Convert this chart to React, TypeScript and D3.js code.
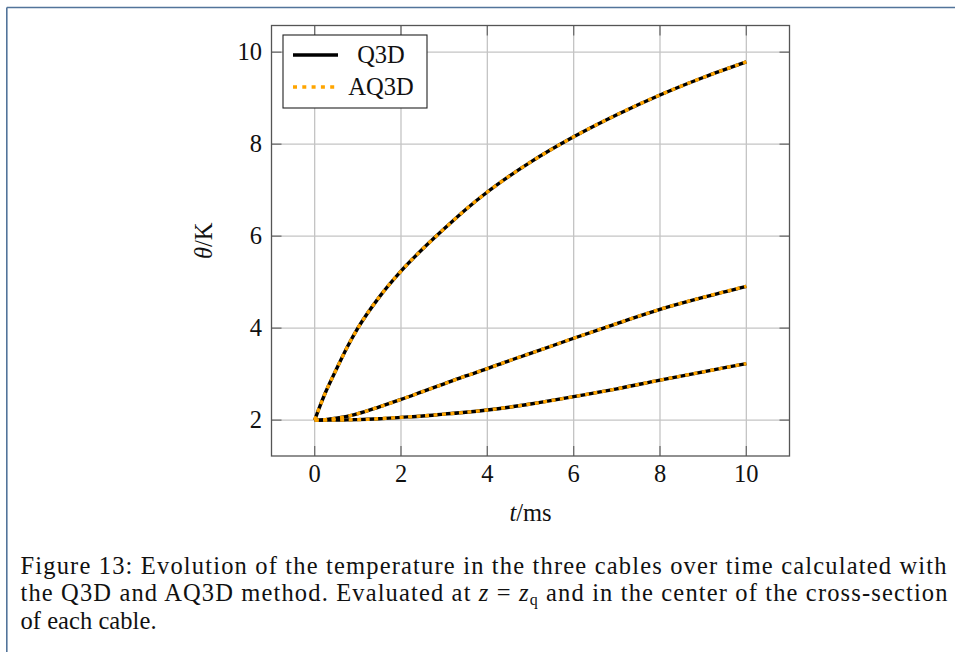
import React from "react";
import * as d3 from "d3";

// ---- data ----
const times = [0, 0.1, 0.25, 0.5, 0.75, 1, 1.5, 2, 2.5, 3, 3.5, 4, 4.5, 5, 6, 7, 8, 9, 10];
const cableA = [2, 2.25, 2.6, 3.1, 3.58, 4.0, 4.68, 5.24, 5.72, 6.16, 6.58, 6.96, 7.3, 7.61, 8.16, 8.64, 9.07, 9.45, 9.79];
const cableB = [2, 2.0, 2.01, 2.04, 2.08, 2.14, 2.29, 2.45, 2.62, 2.79, 2.96, 3.12, 3.29, 3.45, 3.78, 4.1, 4.41, 4.67, 4.91];
const cableC = [2, 2.0, 2.0, 2.0, 2.005, 2.01, 2.03, 2.06, 2.09, 2.13, 2.17, 2.22, 2.28, 2.35, 2.51, 2.68, 2.87, 3.05, 3.23];
const xTicks = [0, 2, 4, 6, 8, 10];
const yTicks = [2, 4, 6, 8, 10];
const legendLabels = ["Q3D", "AQ3D"];
const captionLines = [
  "Figure 13: Evolution of the temperature in the three cables over time calculated with",
  "the Q3D and AQ3D method. Evaluated at ",
  "of each cable.",
];

const W = 955;
const H = 652;
const plot = { left: 271.5, right: 789.5, top: 25.5, bottom: 456 };
const FONT = "'Liberation Serif', 'Times New Roman', serif";
const FS = 24.5;

export default function App() {
  const x = d3.scaleLinear().domain([-1, 11]).range([plot.left, plot.right]);
  const y = d3.scaleLinear().domain([1.22, 10.58]).range([plot.bottom, plot.top]);
  const series = [cableA, cableB, cableC];
  const line = d3
    .line<number>()
    .x((_, i) => x(times[i]))
    .y((d) => y(d))
    .curve(d3.curveMonotoneX);

  const tickLen = 10;
  const tickColor = "#6e6e6e";
  const gridColor = "#c4c4c4";
  const orange = "#ffa500";

  return (
    <div style={{ position: "absolute", left: 0, top: 0 }}>
      <svg width={W} height={H} style={{ display: "block", background: "#fff" }}>
        {/* page border */}
        <line x1={6.8} y1={7.5} x2={W} y2={7.5} stroke="#52749a" strokeWidth={1.6} />
        <line x1={6.8} y1={7.5} x2={6.8} y2={H} stroke="#52749a" strokeWidth={1.6} />

        {/* grid */}
        {xTicks.map((t) => (
          <line key={"gx" + t} x1={x(t)} x2={x(t)} y1={plot.top} y2={plot.bottom} stroke={gridColor} strokeWidth={1.3} />
        ))}
        {yTicks.map((t) => (
          <line key={"gy" + t} x1={plot.left} x2={plot.right} y1={y(t)} y2={y(t)} stroke={gridColor} strokeWidth={1.3} />
        ))}

        {/* ticks on all sides */}
        {xTicks.map((t) => (
          <g key={"tx" + t}>
            <line x1={x(t)} x2={x(t)} y1={plot.bottom} y2={plot.bottom - tickLen} stroke={tickColor} strokeWidth={1.3} />
            <line x1={x(t)} x2={x(t)} y1={plot.top} y2={plot.top + tickLen} stroke={tickColor} strokeWidth={1.3} />
          </g>
        ))}
        {yTicks.map((t) => (
          <g key={"ty" + t}>
            <line x1={plot.left} x2={plot.left + tickLen} y1={y(t)} y2={y(t)} stroke={tickColor} strokeWidth={1.3} />
            <line x1={plot.right} x2={plot.right - tickLen} y1={y(t)} y2={y(t)} stroke={tickColor} strokeWidth={1.3} />
          </g>
        ))}

        {/* curves */}
        {series.map((s, i) => (
          <path key={"q" + i} d={line(s) || ""} fill="none" stroke="#000" strokeWidth={3.4} />
        ))}
        {series.map((s, i) => (
          <path key={"a" + i} d={line(s) || ""} fill="none" stroke={orange} strokeWidth={3.4} strokeDasharray="4 4.5" />
        ))}

        {/* frame */}
        <rect
          x={plot.left}
          y={plot.top}
          width={plot.right - plot.left}
          height={plot.bottom - plot.top}
          fill="none"
          stroke="#555"
          strokeWidth={1.3}
        />

        {/* tick labels */}
        {xTicks.map((t) => (
          <text key={"lx" + t} x={x(t)} y={482} textAnchor="middle" fontFamily={FONT} fontSize={FS} fill="#111">
            {t}
          </text>
        ))}
        {yTicks.map((t) => (
          <text key={"ly" + t} x={262} y={y(t) + 8} textAnchor="end" fontFamily={FONT} fontSize={FS} fill="#111">
            {t}
          </text>
        ))}

        {/* axis titles */}
        <text x={(plot.left + plot.right) / 2} y={521} textAnchor="middle" fontFamily={FONT} fontSize={FS} fill="#111">
          <tspan fontStyle="italic">t</tspan>/ms
        </text>
        <text
          transform={`translate(211.5, ${(plot.top + plot.bottom) / 2}) rotate(-90)`}
          textAnchor="middle"
          fontFamily={FONT}
          fontSize={FS}
          fill="#111"
        >
          <tspan fontStyle="italic">θ</tspan>/K
        </text>

        {/* legend */}
        <rect x={283} y={35} width={144} height={73} fill="#fff" stroke="#222" strokeWidth={1.1} />
        <line x1={293} x2={338} y1={55} y2={55} stroke="#000" strokeWidth={3.4} />
        <line x1={293} x2={338} y1={87} y2={87} stroke={orange} strokeWidth={3.4} strokeDasharray="4 5.3" />
        <text x={381} y={62.5} textAnchor="middle" fontFamily={FONT} fontSize={FS} fill="#111">
          {legendLabels[0]}
        </text>
        <text x={381} y={94.5} textAnchor="middle" fontFamily={FONT} fontSize={FS} fill="#111">
          {legendLabels[1]}
        </text>

        {/* caption */}
        <text x={20.5} y={573.5} fontFamily={FONT} fontSize={FS} fill="#111" textLength={926} lengthAdjust="spacing">
          {captionLines[0]}
        </text>
        <text x={20.5} y={601} fontFamily={FONT} fontSize={FS} fill="#111" textLength={927} lengthAdjust="spacing">
          {captionLines[1]}
          <tspan fontStyle="italic">z</tspan>
          {" = "}
          <tspan fontStyle="italic">z</tspan>
          <tspan fontSize={16} dy={4}>q</tspan>
          <tspan dy={-4}> and in the center of the cross-section</tspan>
        </text>
        <text x={20.5} y={628.5} fontFamily={FONT} fontSize={FS} fill="#111" textLength={136} lengthAdjust="spacing">
          {captionLines[2]}
        </text>
      </svg>
    </div>
  );
}
